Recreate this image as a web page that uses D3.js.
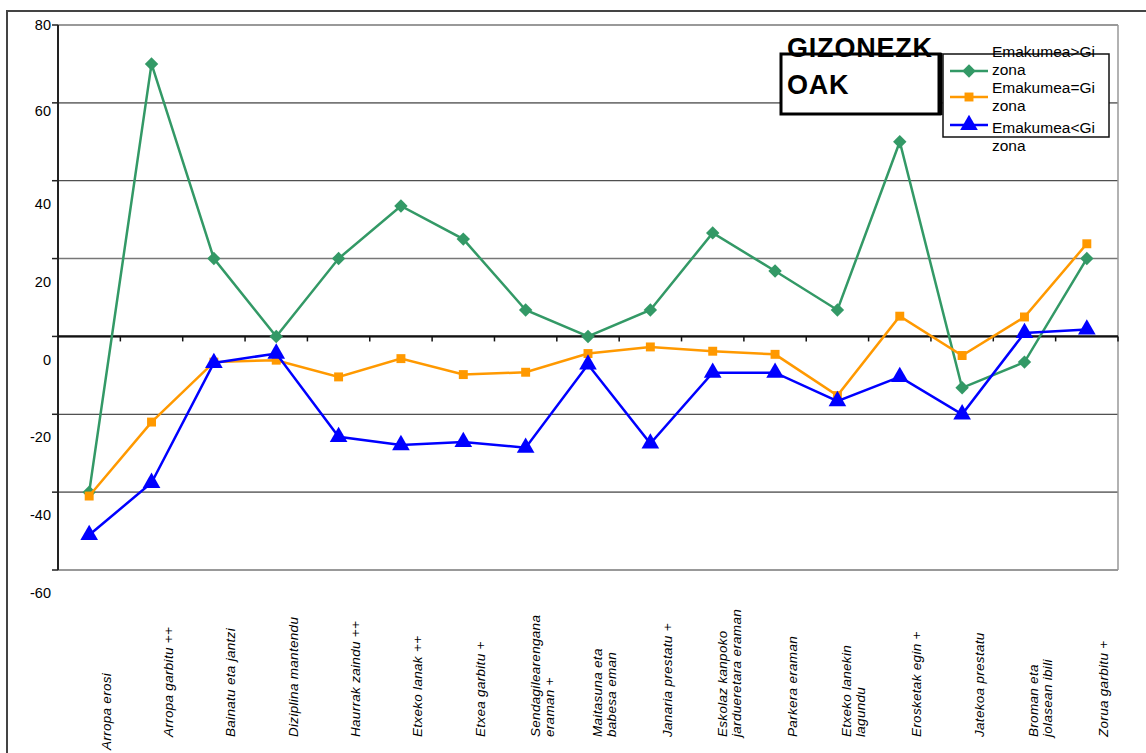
<!DOCTYPE html>
<html>
<head>
<meta charset="utf-8">
<script src="https://cdn.jsdelivr.net/npm/d3@7"></script>
<style>
  body { margin: 0; background: #fff; }
</style>
</head>
<body>
<div id="chart"></div>
<script>
// Data
const categories = [
  "Arropa erosi", "Arropa garbitu ++", "Bainatu eta jantzi", "Diziplina mantendu",
  "Haurrak zaindu ++", "Etxeko lanak ++", "Etxea garbitu +", "Sendagilearengana\neraman +",
  "Maitasuna eta\nbabesa eman", "Janaria prestatu +", "Eskolaz kanpoko\njardueretara eraman",
  "Parkera eraman", "Etxeko lanekin\nlagundu", "Erosketak egin +", "Jatekoa prestatu",
  "Broman eta\njolasean ibili", "Zorua garbitu +"
];
const greater = [-40, 70, 20, 0, 20, 33.5, 25, 6.8, 0, 6.8, 26.6, 16.8, 6.8, 50, -13.2, -6.6, 20];
const equal = [-41, -22, -6.6, -6.1, -10.4, -5.7, -9.8, -9.2, -4.4, -2.7, -3.8, -4.6, -15.2, 5.2, -4.9, 5, 23.8];
const less = [-51, -37.6, -6.8, -4.4, -25.8, -27.9, -27.1, -28.6, -7.2, -27.5, -9.3, -9.3, -16.6, -10.4, -20, 0.9, 1.8];
const seriesNames = ["Emakumea>Gizona", "Emakumea=Gizona", "Emakumea<Gizona"];
const yTicks = [80, 60, 40, 20, 0, -20, -40, -60];
const title = ["GIZONEZK", "OAK"];

const width = 1146;
const height = 753;
const font = "'Liberation Sans', Arial, sans-serif";

const svg = d3.select("#chart")
  .append("svg")
  .attr("width", width)
  .attr("height", height)
  .style("font-family", font);

// Outer frame (left + top only)
svg.append("path")
  .attr("d", `M7,${height} V11 H${width}`)
  .attr("fill", "none")
  .attr("stroke", "#444")
  .attr("stroke-width", 2);

// Scales
const x = d3.scaleBand().domain(categories).range([58, 1118]);
const y = d3.scaleLinear().domain([-60, 80]).range([570, 25]);
const cx = d => x(d) + x.bandwidth() / 2;

// Gridlines
svg.append("g")
  .selectAll("line")
  .data(yTicks)
  .join("line")
  .attr("x1", 58)
  .attr("x2", 1118)
  .attr("y1", d => y(d))
  .attr("y2", d => y(d))
  .attr("stroke", d => (d === 40 || d === -20) ? "#222" : "#777")
  .attr("stroke-width", d => (d === 40 || d === -20) ? 1 : 1.6);

// Right plot border
svg.append("line")
  .attr("x1", 1118).attr("x2", 1118)
  .attr("y1", y(80)).attr("y2", y(-60))
  .attr("stroke", "#999")
  .attr("stroke-width", 1.5);

// Y axis line and ticks
svg.append("line")
  .attr("x1", 58).attr("x2", 58)
  .attr("y1", y(80)).attr("y2", y(-60))
  .attr("stroke", "#222")
  .attr("stroke-width", 2);

svg.append("g")
  .selectAll("line")
  .data(yTicks)
  .join("line")
  .attr("x1", 52).attr("x2", 58)
  .attr("y1", d => y(d)).attr("y2", d => y(d))
  .attr("stroke", "#222")
  .attr("stroke-width", 1.5);

// Y tick labels (shifted down like the source document)
const labelShift = v => v >= 80 ? 0 : v >= 60 ? 8 : 23;
svg.append("g")
  .selectAll("text")
  .data(yTicks)
  .join("text")
  .attr("x", 51)
  .attr("y", d => y(d) + labelShift(d))
  .attr("dy", "0.35em")
  .attr("text-anchor", "end")
  .style("font-size", "14.5px")
  .text(d => d);

// Zero line with category ticks
svg.append("line")
  .attr("x1", 58).attr("x2", 1118)
  .attr("y1", y(0)).attr("y2", y(0))
  .attr("stroke", "#111")
  .attr("stroke-width", 2.2);

svg.append("g")
  .selectAll("line")
  .data(categories.slice(1).concat([null]))
  .join("line")
  .attr("x1", d => d ? x(d) : 1118)
  .attr("x2", d => d ? x(d) : 1118)
  .attr("y1", y(0))
  .attr("y2", y(0) + 5)
  .attr("stroke", "#111")
  .attr("stroke-width", 1.5);

// Category labels, rotated
const catLabels = svg.append("g")
  .selectAll("text")
  .data(categories)
  .join("text")
  .attr("transform", (d, i) => {
    const lines = d.split("\n").length;
    const bx = cx(d) + 17 + (lines > 1 ? -3 : 4.5);
    const by = i === 0 ? 750 : 737;
    return `translate(${bx},${by}) rotate(-90)`;
  })
  .style("font-size", "13.5px")
  .style("font-style", "italic")
  .style("letter-spacing", "0.3px");

catLabels.selectAll("tspan")
  .data(d => d.split("\n"))
  .join("tspan")
  .attr("x", 0)
  .attr("dy", (_, i) => i === 0 ? 0 : 14)
  .text(d => d);

// Series
const series = [
  { name: seriesNames[0], values: greater, color: "#339966", symbol: d3.symbolSquare, size: 90, rotate: 45 },
  { name: seriesNames[1], values: equal, color: "#FF9900", symbol: d3.symbolSquare, size: 80, rotate: 0 },
  { name: seriesNames[2], values: less, color: "#0000FF", symbol: d3.symbolTriangle, size: 135, rotate: 0 }
];

const line = d3.line()
  .x((d, i) => cx(categories[i]))
  .y(d => y(d));

series.forEach(s => {
  svg.append("path")
    .datum(s.values)
    .attr("fill", "none")
    .attr("stroke", s.color)
    .attr("stroke-width", 2.5)
    .attr("d", line);

  svg.append("g")
    .selectAll("path")
    .data(s.values)
    .join("path")
    .attr("transform", (d, i) => `translate(${cx(categories[i])},${y(d)}) rotate(${s.rotate})`)
    .attr("d", d3.symbol().type(s.symbol).size(s.size))
    .attr("fill", s.color);
});

// Title box
svg.append("rect")
  .attr("x", 781).attr("y", 54)
  .attr("width", 159).attr("height", 60)
  .attr("fill", "#fff")
  .attr("stroke", "#000")
  .attr("stroke-width", 3);
svg.append("line")
  .attr("x1", 940).attr("x2", 940)
  .attr("y1", 53).attr("y2", 115)
  .attr("stroke", "#000")
  .attr("stroke-width", 5);

svg.append("g")
  .selectAll("text")
  .data(title)
  .join("text")
  .attr("x", 787)
  .attr("y", (_, i) => 57 + i * 37)
  .style("font-size", "27px")
  .style("font-weight", "bold")
  .style("letter-spacing", "0.8px")
  .text(d => d);

// Legend
svg.append("rect")
  .attr("x", 943).attr("y", 54)
  .attr("width", 166).attr("height", 83)
  .attr("fill", "#fff")
  .attr("stroke", "#111")
  .attr("stroke-width", 1.5);

const legendRowLine = [71, 97, 125];
const legendRowText = [57, 93, 133];

series.forEach((s, i) => {
  const g = svg.append("g");
  g.append("line")
    .attr("x1", 950).attr("x2", 988)
    .attr("y1", legendRowLine[i]).attr("y2", legendRowLine[i])
    .attr("stroke", s.color)
    .attr("stroke-width", 2.5);
  g.append("path")
    .attr("transform", `translate(969,${legendRowLine[i]}) rotate(${s.rotate})`)
    .attr("d", d3.symbol().type(s.symbol).size(s.size))
    .attr("fill", s.color);
  const t = g.append("text")
    .attr("x", 992)
    .attr("y", legendRowText[i])
    .style("font-size", "15.5px");
  [s.name.slice(0, 11), s.name.slice(11)].forEach((part, j) => {
    t.append("tspan")
      .attr("x", 992)
      .attr("dy", j === 0 ? 0 : 18)
      .text(part);
  });
});
</script>
</body>
</html>
